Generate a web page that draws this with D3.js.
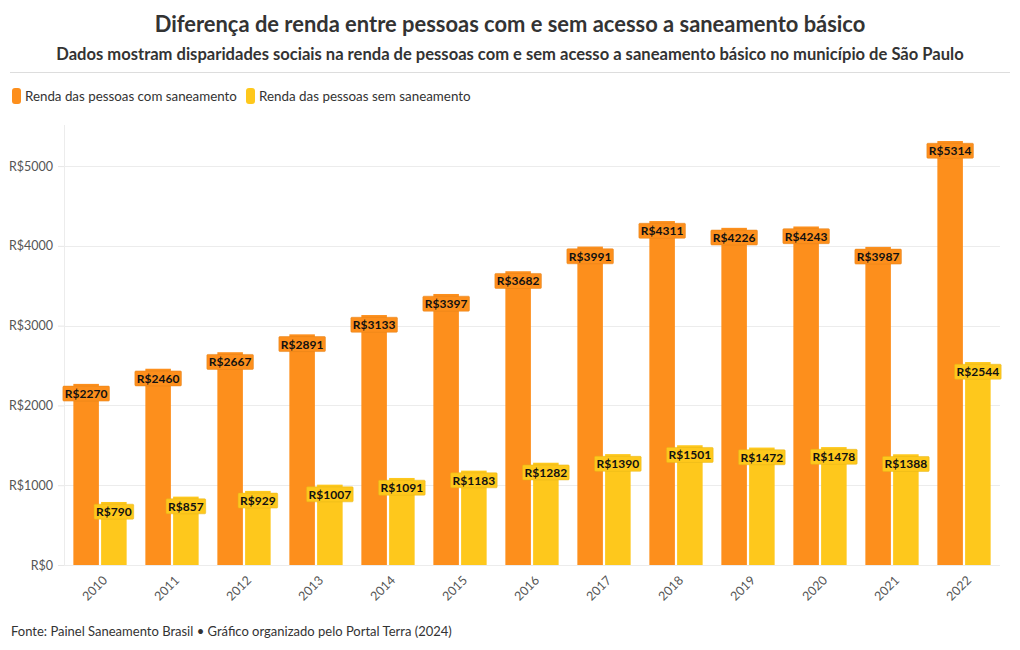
<!DOCTYPE html>
<html><head><meta charset="utf-8">
<script src="https://cdn.jsdelivr.net/npm/d3@7"></script>
<style>body{margin:0;background:#fff;font-family:Lato,"Noto Sans",sans-serif;}</style>
</head><body><svg id="c" width="1020" height="650"></svg>
<script>
const years = ["2010","2011","2012","2013","2014","2015","2016","2017","2018","2019","2020","2021","2022"];
const comSaneamento = [2270,2460,2667,2891,3133,3397,3682,3991,4311,4226,4243,3987,5314];
const semSaneamento = [790,857,929,1007,1091,1183,1282,1390,1501,1472,1478,1388,2544];
const seriesNames = ["Renda das pessoas com saneamento","Renda das pessoas sem saneamento"];
const yTicks = [0,1000,2000,3000,4000,5000];
const colors = ["#fd8f1c","#fec81c"];

const svg = d3.select("#c");
const F = "Lato, 'Noto Sans', sans-serif";

function fit(sel, w){ const l = sel.node().getComputedTextLength(); const fs = parseFloat(sel.attr("font-size")); sel.attr("font-size", fs*w/l); }

const t = svg.append("text").attr("x",510).attr("y",32).attr("text-anchor","middle").attr("font-family",F)
  .attr("font-weight",700).attr("font-size",22).attr("fill","#333").text("Diferença de renda entre pessoas com e sem acesso a saneamento básico");
fit(t,711);
const st = svg.append("text").attr("x",510).attr("y",60).attr("text-anchor","middle").attr("font-family",F)
  .attr("font-weight",700).attr("font-size",16).attr("fill","#333").text("Dados mostram disparidades sociais na renda de pessoas com e sem acesso a saneamento básico no município de São Paulo");
fit(st,908);
svg.append("line").attr("x1",10).attr("x2",1010).attr("y1",72.5).attr("y2",72.5).attr("stroke","#ddd");

// legend
let lx = 12;
seriesNames.forEach((n,i)=>{
  svg.append("rect").attr("x",lx).attr("y",88).attr("width",9).attr("height",16).attr("rx",3).attr("fill",colors[i]);
  const tx = svg.append("text").attr("x",lx+13).attr("y",101).attr("font-family",F).attr("font-size",13).attr("fill","#333").text(n);
  fit(tx, 212);
  lx += 13 + 212 + 9;
});

const m = {l:64, r:1000, t:125, b:565};
const x = d3.scaleBand().domain(years).range([m.l,m.r]).paddingInner(0.26).paddingOuter(0.13);
const xs = d3.scaleBand().domain([0,1]).range([0,x.bandwidth()]).paddingInner(0.08);
const y = d3.scaleLinear().domain([0,5515]).range([m.b,m.t]);

// grid
svg.append("g").selectAll("line").data(yTicks).join("line")
  .attr("x1",m.l).attr("x2",m.r).attr("y1",d=>Math.round(y(d))+0.5).attr("y2",d=>Math.round(y(d))+0.5).attr("stroke","#ececec");
svg.append("line").attr("x1",m.l+0.5).attr("x2",m.l+0.5).attr("y1",m.t).attr("y2",m.b).attr("stroke","#ececec");

const ya = svg.append("g").attr("transform",`translate(${m.l},0)`)
  .call(d3.axisLeft(y).tickValues(yTicks).tickFormat(d=>"R$"+d).tickSize(6).tickPadding(5));
ya.select(".domain").remove();
ya.selectAll(".tick line").attr("stroke","#e6e6e6");
ya.selectAll("text").attr("font-family",F).attr("font-size",12.5).attr("fill","#555");

const xa = svg.append("g").attr("transform",`translate(0,${m.b})`).call(d3.axisBottom(x).tickSize(0));
xa.select(".domain").remove();
xa.selectAll("text").attr("font-family",F).attr("font-size",12.5).attr("fill","#555")
  .attr("text-anchor","end").attr("x",0).attr("y",0).attr("dy","0.35em").attr("transform","translate(5,13) rotate(-45)");

const data = [comSaneamento, semSaneamento];
data.forEach((vals,i)=>{
  const g = svg.append("g");
  g.selectAll("rect").data(vals).join("rect")
    .attr("x",(d,j)=>x(years[j])+xs(i)).attr("width",xs.bandwidth())
    .attr("y",d=>y(d)).attr("height",d=>y(0)-y(d)).attr("fill",colors[i]);
});
data.forEach((vals,i)=>{
  const g = svg.append("g");
  vals.forEach((d,j)=>{
    const cx = x(years[j])+xs(i)+xs.bandwidth()/2, cy = y(d)+10;
    const lg = g.append("g");
    const tx = lg.append("text").attr("x",cx).attr("y",cy).attr("dy","0.35em").attr("text-anchor","middle")
      .attr("font-family",F).attr("font-weight",700).attr("font-size",12).attr("fill","#111").text("R$"+d);
    const bb = tx.node().getBBox();
    lg.insert("rect","text").attr("x",bb.x-2).attr("y",bb.y).attr("width",bb.width+4).attr("height",bb.height)
      .attr("fill",colors[i]).attr("stroke",d3.color(colors[i]).darker(0.3)).attr("stroke-width",0.5).attr("rx",1);
  });
});

svg.append("text").attr("x",11).attr("y",636).attr("font-family",F).attr("font-size",13).attr("fill","#333")
  .text("Fonte: Painel Saneamento Brasil • Gráfico organizado pelo Portal Terra (2024)");
</script></body></html>
